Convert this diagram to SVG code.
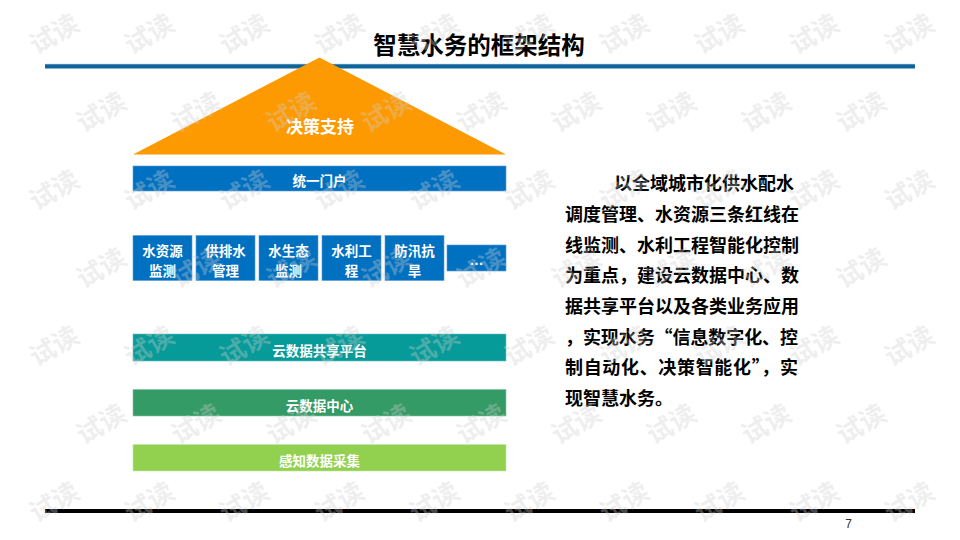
<svg xmlns="http://www.w3.org/2000/svg" xmlns:xlink="http://www.w3.org/1999/xlink" width="960" height="540" viewBox="0 0 960 540">
  <style>
    .cjk { font-family: "Noto Sans CJK SC", "Noto Sans", sans-serif; font-weight: 700; }
    .lbl { font-family: "Noto Sans CJK SC", "Noto Sans", sans-serif; font-weight: 700; fill: #ffffff; font-size: 13.5px; text-anchor: middle; }
    .big { font-size: 17px; }
    .body { font-family: "Noto Sans CJK SC", "Noto Sans", sans-serif; font-weight: 700; fill: #000000; font-size: 18px; }
    .box { fill: #0070c0; stroke: #5b9bd5; stroke-width: 0.6; }
    .wmtext { font-family: "Noto Sans CJK SC", sans-serif; font-weight: 700; font-size: 26px; fill: #cfcfcf; fill-opacity: 0.35; text-anchor: middle; dominant-baseline: central; }
  </style>
  <defs>
    <text id="wm" class="wmtext" x="0" y="0">试读</text>
    <g id="rowEven">
      <use xlink:href="#wm" href="#wm" transform="translate(53,0) rotate(-30)"/>
      <use xlink:href="#wm" href="#wm" transform="translate(148,0) rotate(-30)"/>
      <use xlink:href="#wm" href="#wm" transform="translate(243,0) rotate(-30)"/>
      <use xlink:href="#wm" href="#wm" transform="translate(338,0) rotate(-30)"/>
      <use xlink:href="#wm" href="#wm" transform="translate(433,0) rotate(-30)"/>
      <use xlink:href="#wm" href="#wm" transform="translate(528,0) rotate(-30)"/>
      <use xlink:href="#wm" href="#wm" transform="translate(623,0) rotate(-30)"/>
      <use xlink:href="#wm" href="#wm" transform="translate(718,0) rotate(-30)"/>
      <use xlink:href="#wm" href="#wm" transform="translate(813,0) rotate(-30)"/>
      <use xlink:href="#wm" href="#wm" transform="translate(908,0) rotate(-30)"/>
    </g>
    <g id="rowOdd">
      <use xlink:href="#wm" href="#wm" transform="translate(100,0) rotate(-30)"/>
      <use xlink:href="#wm" href="#wm" transform="translate(195,0) rotate(-30)"/>
      <use xlink:href="#wm" href="#wm" transform="translate(290,0) rotate(-30)"/>
      <use xlink:href="#wm" href="#wm" transform="translate(385,0) rotate(-30)"/>
      <use xlink:href="#wm" href="#wm" transform="translate(480,0) rotate(-30)"/>
      <use xlink:href="#wm" href="#wm" transform="translate(575,0) rotate(-30)"/>
      <use xlink:href="#wm" href="#wm" transform="translate(670,0) rotate(-30)"/>
      <use xlink:href="#wm" href="#wm" transform="translate(765,0) rotate(-30)"/>
      <use xlink:href="#wm" href="#wm" transform="translate(860,0) rotate(-30)"/>
    </g>
  </defs>

  <rect x="0" y="0" width="960" height="540" fill="#ffffff"/>

  <!-- header -->
  <g id="title">
    <text class="cjk" x="479" y="54" font-size="23.5" text-anchor="middle" fill="#000000">智慧水务的框架结构</text>
    <rect x="45" y="64" width="870" height="4.5" fill="#0f6399"/>
    <line x1="45" y1="64.4" x2="915" y2="64.4" stroke="#4f92c4" stroke-width="0.9"/>
  </g>

  <!-- nodes -->
  <g id="node-decision">
    <polygon points="319.5,57.5 506,154.5 133,154.5" fill="#fd9a02"/>
    <text class="lbl big" x="320" y="133">决策支持</text>
  </g>

  <g id="node-portal">
    <rect x="133" y="166" width="373" height="25" fill="#0070c0" stroke="#5b9bd5" stroke-width="0.6"/>
    <text class="lbl" x="319.5" y="185.5">统一门户</text>
  </g>

  <g id="node-app-1">
    <rect class="box" x="133" y="235.5" width="59" height="45"/>
    <text class="lbl" x="162.5" y="256">水资源</text>
    <text class="lbl" x="162.5" y="276">监测</text>
  </g>
  <g id="node-app-2">
    <rect class="box" x="196" y="235.5" width="59" height="45"/>
    <text class="lbl" x="225.5" y="256">供排水</text>
    <text class="lbl" x="225.5" y="276">管理</text>
  </g>
  <g id="node-app-3">
    <rect class="box" x="259" y="235.5" width="59" height="45"/>
    <text class="lbl" x="288.5" y="256">水生态</text>
    <text class="lbl" x="288.5" y="276">监测</text>
  </g>
  <g id="node-app-4">
    <rect class="box" x="322" y="235.5" width="59" height="45"/>
    <text class="lbl" x="351.5" y="256">水利工</text>
    <text class="lbl" x="351.5" y="276">程</text>
  </g>
  <g id="node-app-5">
    <rect class="box" x="385" y="235.5" width="59" height="45"/>
    <text class="lbl" x="414.5" y="256">防汛抗</text>
    <text class="lbl" x="414.5" y="276">旱</text>
  </g>
  <g id="node-app-more">
    <rect class="box" x="447" y="245" width="59" height="26"/>
    <text class="lbl" x="476.5" y="265" style="font-family:'Liberation Sans', sans-serif; font-size:14px">…</text>
  </g>

  <g id="node-share">
    <rect x="133" y="334" width="373" height="27" fill="#069a98" stroke="#6cc3c1" stroke-width="0.6"/>
    <text class="lbl" x="319.5" y="356">云数据共享平台</text>
  </g>

  <g id="node-datacenter">
    <rect x="133" y="389.5" width="373" height="26.5" fill="#349a66" stroke="#8ac7a6" stroke-width="0.6"/>
    <text class="lbl" x="319.5" y="411">云数据中心</text>
  </g>

  <g id="node-sensing">
    <rect x="133" y="444.5" width="373" height="26.5" fill="#92d050" stroke="#c4e6a2" stroke-width="0.6"/>
    <text class="lbl" x="319.5" y="466">感知数据采集</text>
  </g>

  <g id="connectors"></g>

  <g id="description">
    <text class="body" x="614" y="190">以全域城市化供水配水</text>
    <text class="body" x="565" y="221">调度管理、水资源三条红线在</text>
    <text class="body" x="565" y="251.5">线监测、水利工程智能化控制</text>
    <text class="body" x="565" y="282">为重点，建设云数据中心、数</text>
    <text class="body" x="565" y="313">据共享平台以及各类业务应用</text>
    <text class="body" x="565" y="343.5" textLength="233" lengthAdjust="spacing">，实现水务“信息数字化、控</text>
    <text class="body" x="565" y="374" textLength="233" lengthAdjust="spacing">制自动化、决策智能化”，实</text>
    <text class="body" x="565" y="405">现智慧水务。</text>
  </g>

  <!-- footer -->
  <g id="footer">
    <rect x="45" y="509" width="870" height="4" fill="#000000"/>
    <text x="848.5" y="528" font-family="'Liberation Sans', Arial, sans-serif" font-size="12" fill="#333333" text-anchor="middle">7</text>
  </g>

  <!-- watermark -->
  <g id="watermark">
    <use xlink:href="#rowEven" href="#rowEven" y="32"/>
    <use xlink:href="#rowOdd" href="#rowOdd" y="110"/>
    <use xlink:href="#rowEven" href="#rowEven" y="188"/>
    <use xlink:href="#rowOdd" href="#rowOdd" y="266"/>
    <use xlink:href="#rowEven" href="#rowEven" y="344"/>
    <use xlink:href="#rowOdd" href="#rowOdd" y="422"/>
    <use xlink:href="#rowEven" href="#rowEven" y="500"/>
  </g>
</svg>
